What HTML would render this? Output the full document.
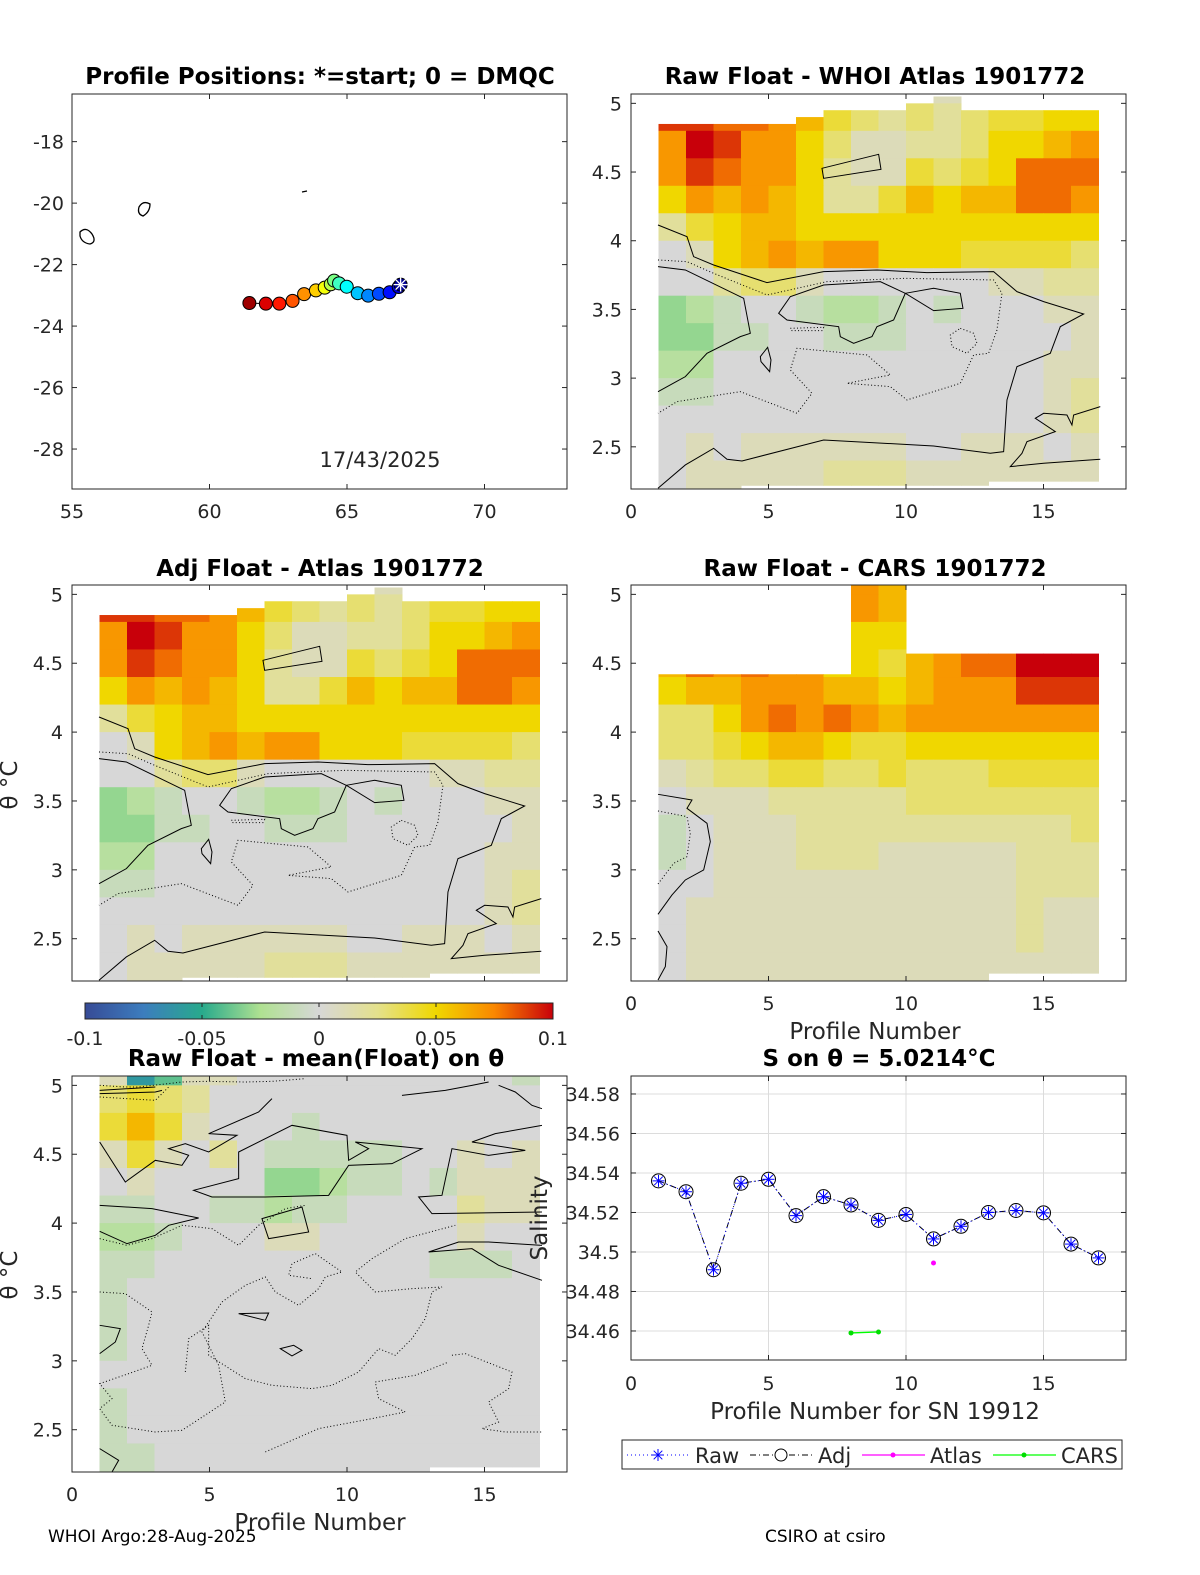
<!DOCTYPE html>
<html><head><meta charset="utf-8">
<style>
body{margin:0;background:#fff;}
svg{display:block;font-family:"DejaVu Sans","Liberation Sans",sans-serif;}
.t{font-size:19px;fill:#262626;font-family:"DejaVu Sans","Liberation Sans",sans-serif;}
.ttl{font-size:23px;font-weight:bold;fill:#000;font-family:"DejaVu Sans","Liberation Sans",sans-serif;}
.lab{font-size:23px;fill:#262626;font-family:"DejaVu Sans","Liberation Sans",sans-serif;}
.leg{font-size:21px;fill:#262626;font-family:"DejaVu Sans","Liberation Sans",sans-serif;}
</style></head>
<body>
<svg id="fig" width="1200" height="1575" viewBox="0 0 1200 1575" xmlns="http://www.w3.org/2000/svg">
<defs>
<clipPath id="c2"><rect x="631" y="94" width="495" height="395"/></clipPath>
<clipPath id="c3"><rect x="72" y="585" width="495" height="396"/></clipPath>
<clipPath id="c4"><rect x="631" y="585" width="495" height="396"/></clipPath>
<clipPath id="c5"><rect x="72" y="1076" width="495" height="396"/></clipPath>
<linearGradient id="cbg" x1="0" x2="1" y1="0" y2="0">
<stop offset="0" stop-color="rgb(55,75,150)"/><stop offset="0.125" stop-color="rgb(60,125,190)"/>
<stop offset="0.25" stop-color="rgb(40,170,140)"/><stop offset="0.375" stop-color="rgb(175,225,145)"/>
<stop offset="0.5" stop-color="rgb(215,215,215)"/><stop offset="0.625" stop-color="rgb(228,225,140)"/>
<stop offset="0.75" stop-color="rgb(240,215,0)"/><stop offset="0.875" stop-color="rgb(250,135,0)"/>
<stop offset="1" stop-color="rgb(200,0,10)"/>
</linearGradient>
</defs>
<g id="layer"></g>
</svg>
<script>
// ---------- data ----------
const profiles = [1,2,3,4,5,6,7,8,9,10,11,12,13,14,15,16,17];
const mapLon = [66.95,66.88,66.55,66.16,65.77,65.39,64.99,64.71,64.53,64.41,64.19,63.87,63.44,63.02,62.54,62.05,61.45];
const mapLat = [-22.65,-22.73,-22.90,-22.95,-23.01,-22.93,-22.72,-22.61,-22.52,-22.64,-22.75,-22.84,-22.96,-23.18,-23.27,-23.27,-23.25];
const rawSal = [34.536,34.5305,34.491,34.5348,34.5368,34.5184,34.528,34.5238,34.516,34.519,34.5066,34.513,34.520,34.521,34.5198,34.504,34.497];
const adjSal = [34.536,34.5305,34.491,34.5348,34.5368,34.5184,34.528,34.5238,34.516,34.519,34.5066,34.513,34.520,34.521,34.5198,34.504,34.497];
const atlasProf = [11];
const atlasSal = [34.4944];
const carsProf = [8,9];
const carsSal = [34.459,34.4595];
const mapXTicks = [55,60,65,70];
const mapYTicks = [-18,-20,-22,-24,-26,-28];
const thetaTicks = [2.5,3,3.5,4,4.5,5];
const profTicks = [0,5,10,15];
const salTicks = [34.46,34.48,34.5,34.52,34.54,34.56,34.58];
const salTickLabels = ["34.46","34.48","34.5","34.52","34.54","34.56","34.58"];
const cbTicks = [-0.1,-0.05,0,0.05,0.1];
const cbTickLabels = ["-0.1","-0.05","0","0.05","0.1"];
const rowBottoms = [2.2,2.4,2.6,2.8,3.0,3.2,3.4,3.6,3.8,4.0,4.2,4.4,4.6,4.8,5.0];
const whoiGrid = [
 [null,null,null,null,null,null,null,null,null,1,1,null,null,null,null,null],
 [9,9,8,8,7,6,4,3,2,3,2,3,4,4,5,5],
 [7,10,9,7,7,5,3,1,1,2,2,3,5,5,6,7],
 [7,9,8,7,7,5,2,1,1,4,3,4,5,8,8,8],
 [5,7,6,7,6,5,2,2,4,6,5,6,6,8,8,7],
 [2,4,5,6,6,5,5,5,5,5,5,5,5,5,5,5],
 [0,1,5,6,7,6,7,7,5,5,5,4,4,4,4,3],
 [0,0,2,3,3,1,0,0,0,0,0,0,1,1,2,2],
 [-3,-2,-1,0,0,-1,-2,-2,-1,0,-1,0,0,0,1,1],
 [-3,-3,-1,-1,0,0,-1,-1,-1,0,0,0,0,0,0,1],
 [-2,-2,0,0,0,0,0,0,0,0,0,0,0,0,1,1],
 [-1,-1,0,0,0,0,0,0,0,0,0,0,0,0,1,2],
 [0,0,0,0,0,0,0,0,0,0,0,0,0,0,1,2],
 [0,1,0,1,1,1,1,1,1,0,0,1,1,1,0,1],
 [0,1,1,1,1,1,2,2,2,1,1,1,1,1,1,1]
];
const whoiTop = [4.85,4.85,4.85,4.85,4.85,4.9,4.95,4.95,4.95,5.0,5.05,4.95,4.95,4.95,4.95,4.95];
const whoiBot = [2.18,2.18,2.18,2.22,2.22,2.22,2.22,2.22,2.22,2.22,2.22,2.22,2.25,2.25,2.25,2.25];
const adjGrid = whoiGrid;
const carsGrid = [
 [null,null,null,null,null,null,null,7,6,null,null,null,null,null,null,null],
 [null,null,null,null,null,null,null,7,6,null,null,null,null,null,null,null],
 [null,null,null,null,null,null,null,5,5,null,null,null,null,null,null,null],
 [6,8,7,8,7,7,5,5,4,6,7,8,8,10,10,10],
 [5,6,6,7,7,7,6,6,5,6,7,7,7,9,9,9],
 [3,3,5,7,8,7,8,7,6,7,7,7,7,7,7,7],
 [3,3,4,5,6,6,5,4,4,5,5,5,5,5,5,5],
 [1,2,3,3,4,4,3,3,4,3,3,3,4,4,4,4],
 [0,1,1,1,2,2,2,2,2,3,3,3,3,3,3,3],
 [-1,0,1,1,1,2,2,2,2,2,2,2,2,2,2,3],
 [-1,0,1,1,1,2,2,2,1,1,1,1,1,2,2,2],
 [0,0,1,1,1,1,1,1,1,1,1,1,1,2,2,2],
 [0,1,1,1,1,1,1,1,1,1,1,1,1,2,1,1],
 [0,1,1,1,1,1,1,1,1,1,1,1,1,2,1,1],
 [0,1,1,1,1,1,1,1,1,1,1,1,1,1,1,1]
];
const carsTop = [4.42,4.42,4.42,4.42,4.42,4.42,4.42,5.07,5.07,4.57,4.57,4.57,4.57,4.57,4.57,4.57];
const carsBot = [2.18,2.18,2.18,2.18,2.18,2.18,2.18,2.18,2.18,2.18,2.18,2.18,2.25,2.25,2.25,2.25];
const diffGrid = [
 [1,-6,-4,1,1,0,0,0,0,0,0,0,0,0,0,-1],
 [3,4,3,2,0,0,0,0,0,0,0,0,0,0,0,0],
 [4,6,4,1,0,0,0,-1,0,0,0,0,0,0,0,0],
 [1,4,1,0,2,0,-1,-1,-1,-1,-1,0,0,1,0,1],
 [0,1,0,0,0,0,-3,-3,-2,-1,-1,0,-1,1,1,1],
 [-1,-1,0,0,-1,-1,-2,-1,-1,0,0,0,0,2,1,1],
 [-2,-2,-1,0,0,0,1,1,0,0,0,0,0,1,0,0],
 [-1,-1,0,0,0,0,0,0,0,0,0,0,-1,-1,-1,0],
 [-1,0,0,0,0,0,0,0,0,0,0,0,0,0,0,0],
 [-1,0,0,0,0,0,0,0,0,0,0,0,0,0,0,0],
 [-1,0,0,0,0,0,0,0,0,0,0,0,0,0,0,0],
 [0,0,0,0,0,0,0,0,0,0,0,0,0,0,0,0],
 [-1,0,0,0,0,0,0,0,0,0,0,0,0,0,0,0],
 [-1,0,0,0,0,0,0,0,0,0,0,0,0,0,0,0],
 [-1,-1,0,0,0,0,0,0,0,0,0,0,0,0,0,0]
];
const diffTop = [5.07,5.07,5.07,5.07,5.07,5.07,5.07,5.07,5.07,5.07,5.07,5.07,5.07,5.07,5.07,5.07];
const diffBot = [2.18,2.18,2.18,2.18,2.18,2.18,2.18,2.18,2.18,2.18,2.18,2.18,2.23,2.23,2.23,2.23];

// ---------- helpers ----------
const NS = "http://www.w3.org/2000/svg";
const root = document.getElementById('layer');
function el(tag, attrs, parent){
  const e = document.createElementNS(NS, tag);
  for (const k in attrs) e.setAttribute(k, attrs[k]);
  (parent||root).appendChild(e);
  return e;
}
function txt(s, attrs, parent){ const e = el('text', attrs, parent); e.textContent = s; return e; }
function lin(d0,d1,r0,r1){ return v => r0 + (v-d0)/(d1-d0)*(r1-r0); }
const stops = [[-10,[55,75,150]],[-7.5,[60,125,190]],[-5,[40,170,140]],[-2.5,[175,225,145]],[0,[215,215,215]],[2.5,[228,225,140]],[5,[240,215,0]],[7.5,[250,135,0]],[10,[200,0,10]]];
function cmap(v){
  v = Math.max(-10, Math.min(10, v));
  for (let i=0;i<stops.length-1;i++){
    const a=stops[i], b=stops[i+1];
    if (v<=b[0]){ const t=(v-a[0])/(b[0]-a[0]);
      return 'rgb('+a[1].map((c,j)=>Math.round(c+(b[1][j]-c)*t)).join(',')+')'; }
  }
  return 'rgb(200,0,10)';
}
function jet(t){
  const c = x => Math.round(255*Math.max(0,Math.min(1,x)));
  return 'rgb('+c(1.5-Math.abs(4*t-3))+','+c(1.5-Math.abs(4*t-2))+','+c(1.5-Math.abs(4*t-1))+')';
}
function box(x0,y0,w,h,name){
  const r = el('rect',{x:x0,y:y0,width:w,height:h,fill:'none',stroke:'#262626','stroke-width':1});
  
  
}
function xTicks(ticks, sx, y0, h, labels, labelY, name){
  const g = el('g',{});
  
  
  ticks.forEach((v,i)=>{
    const x = sx(v);
    el('line',{x1:x,x2:x,y1:y0+h,y2:y0+h-5,stroke:'#262626'},g);
    el('line',{x1:x,x2:x,y1:y0,y2:y0+5,stroke:'#262626'},g);
    if (labels) txt(labels[i],{x:x,y:labelY,'text-anchor':'middle',class:'t'},g);
  });
}
function yTicks(ticks, sy, x0, w, labels, labelX, name){
  const g = el('g',{});
  
  
  ticks.forEach((v,i)=>{
    const y = sy(v);
    el('line',{x1:x0,x2:x0+5,y1:y,y2:y,stroke:'#262626'},g);
    el('line',{x1:x0+w,x2:x0+w-5,y1:y,y2:y,stroke:'#262626'},g);
    if (labels) txt(labels[i],{x:labelX,y:y+7,'text-anchor':'end',class:'t'},g);
  });
}
function heatmap(grid, tops, bots, x0, y0, w, h, clipId, name){
  const sx = lin(0,18.0,x0,x0+w), sy = lin(2.193,5.068,y0+h,y0);
  const g = el('g',{'clip-path':'url(#'+clipId+')'});
  
  
  const nr = rowBottoms.length;
  grid.forEach((row, ri)=>{
    const r = nr-1-ri;
    row.forEach((v, ci)=>{
      if (v===null) return;
      let lo = Math.max(rowBottoms[r], bots[ci]);
      let hi = Math.min(rowBottoms[r]+0.2, tops[ci]);
      if (hi<=lo) return;
      const c = el('rect',{x:sx(ci+1),y:sy(hi),width:sx(ci+2)-sx(ci+1)+0.5,height:sy(lo)-sy(hi)+0.5,fill:cmap(v)},g);
      
      
    });
  });
  return {sx, sy};
}
function thetaAxes(x0,y0,w,h,name,xLabels,xLabelY){
  const sx = lin(0,18.0,x0,x0+w), sy = lin(2.193,5.068,y0+h,y0);
  box(x0,y0,w,h,name+'-box');
  xTicks(profTicks, sx, y0, h, xLabels?profTicks.map(String):null, xLabelY, name+'-x-ticks');
  yTicks(thetaTicks, sy, x0, w, thetaTicks.map(String), x0-9, name+'-y-ticks');
}
function atlasContours(tx,ty,name){
  const g = el('g',{transform:'translate('+tx+','+ty+') scale(0.3333)',fill:'none',stroke:'#000','stroke-width':3});
  
  
  el('path',{d:'M93,405 L180,440 L200,500 L260,525 L420,578 L590,545 L750,540 L900,548 L1100,545 L1170,605 L1250,635 L1370,672 L1300,710 L1270,790 L1170,830 L1140,930 L1130,1085 L1090,1090 L920,1068 L590,1050 L345,1113 L300,1108 L260,1075 L175,1125 L93,1195'},g);
  el('path',{d:'M455,670 L490,620 L590,585 L760,575 L835,610 L800,690 L750,710 L735,740 L680,760 L640,740 L635,710 L480,690 Z'},g);
  el('path',{d:'M835,610 L920,595 L1000,610 L1008,655 L920,662 Z'},g);
  el('path',{d:'M585,235 L755,193 L762,238 L590,265 Z'},g);
  el('path',{d:'M93,530 L175,540 L350,625 L370,730 L340,740 L240,790 L175,860 L93,905'},g);
  el('path',{d:'M400,800 L422,772 L432,810 L428,845 L402,815 Z'},g);
  el('path',{d:'M93,510 L180,515 L260,550 L420,615 L600,575 L830,565 L1100,570 L1125,610 L1110,720 L1085,790 L1040,795 L1000,880 L840,930 L790,890 L660,880 L790,855 L720,795 L510,775 L490,840 L555,910 L510,970 L340,905 L150,935 L93,970','stroke-dasharray':'3,7'},g);
  el('path',{d:'M1000,715 L1040,730 L1050,760 L1020,790 L975,770 L970,735 Z','stroke-dasharray':'3,7'},g);
  el('path',{d:'M490,715 L590,712 L585,722 L495,722 Z','stroke-dasharray':'3,7'},g);
  el('path',{d:'M1420,950 L1340,975 L1335,1005 L1320,975 L1250,970 L1225,985 L1285,1025 L1200,1055 L1185,1090 L1150,1130 L1250,1120 L1420,1108'},g);
}

// ---------- panel 1: map ----------
(function(){
  const x0=72,y0=94,w=495,h=395;
  const sx = lin(55,73.0,x0,x0+w), sy = lin(-29.3,-16.45,y0+h,y0);
  const coast = el('g',{fill:'none',stroke:'#000','stroke-width':1.3});
  
  
  el('path',{d:'M80,232 Q86,226 92,234 Q97,242 90,244 Q82,243 80,236 Z'},coast);
  el('path',{d:'M139,207 Q143,200 150,204 Q150,212 143,216 Q137,214 139,207 Z'},coast);
  el('path',{d:'M302,192 L307,191'},coast);
  const pts = profiles.map((p,i)=>[sx(mapLon[i]), sy(mapLat[i])]);
  const track = el('polyline',{points:pts.map(p=>p.join(',')).join(' '),fill:'none',stroke:'#000','stroke-width':1});
  
  
  for (let i=profiles.length-1;i>=0;i--){
    const c = el('circle',{cx:pts[i][0],cy:pts[i][1],r:6.5,fill:jet(i/(profiles.length-1)*0.95+0.02),stroke:'#000','stroke-width':1});
    
    
  }
  const s = el('g',{stroke:'#fff','stroke-width':1.3});
  
  
  const [px,py]=pts[0];
  [[0,7],[7,0],[5,5],[5,-5]].forEach(([dx,dy])=>el('line',{x1:px-dx,y1:py-dy,x2:px+dx,y2:py+dy},s));
  box(x0,y0,w,h,'map-box');
  xTicks(mapXTicks, sx, y0, h, mapXTicks.map(String), 518, 'map-x-ticks');
  yTicks(mapYTicks, sy, x0, w, mapYTicks.map(String), 64, 'map-y-ticks');
  const d = txt('17/43/2025',{x:380,y:467,'text-anchor':'middle',class:'lab',style:'font-size:21px'});
  
  
  const t = txt('Profile Positions: *=start; 0 = DMQC',{x:320,y:84,'text-anchor':'middle',class:'ttl'});
  
  
})();

// ---------- panel 2 ----------
heatmap(whoiGrid, whoiTop, whoiBot, 631, 94, 495, 395, 'c2', 'whoi-heatmap');
atlasContours(627,90,'whoi-contours');
thetaAxes(631,94,495,395,'whoi',true,518);
(function(){const t=txt('Raw Float - WHOI Atlas  1901772',{x:875,y:84,'text-anchor':'middle',class:'ttl'});
})();

// ---------- panel 3 ----------
heatmap(adjGrid, whoiTop, whoiBot, 72, 585, 495, 396, 'c3', 'adj-heatmap');
atlasContours(68,582,'adj-contours');
thetaAxes(72,585,495,396,'adj',false,0);
(function(){const t=txt('Adj Float - Atlas  1901772',{x:320,y:576,'text-anchor':'middle',class:'ttl'});
})();

// ---------- panel 4 ----------
heatmap(carsGrid, carsTop, carsBot, 631, 585, 495, 396, 'c4', 'cars-heatmap');
(function(){
  const g = el('g',{transform:'translate(627,580) scale(0.3333)',fill:'none',stroke:'#000','stroke-width':3});
  
  
  el('path',{d:'M93,643 L195,660 L180,685 L240,730 L250,785 L230,870 L175,900 L135,945 L93,1003'},g);
  el('path',{d:'M93,693 L180,710 L190,760 L180,830 L140,850 L93,912','stroke-dasharray':'3,7'},g);
  el('path',{d:'M93,1053 L120,1100 L115,1160 L93,1200'},g);
})();
thetaAxes(631,585,495,396,'cars',true,1010);
(function(){const t=txt('Raw Float - CARS  1901772',{x:875,y:576,'text-anchor':'middle',class:'ttl'});

const l=txt('Profile Number',{x:875,y:1039,'text-anchor':'middle',class:'lab'});
})();

// ---------- colorbar ----------
(function(){
  const cb = el('rect',{x:85,y:1003,width:468,height:16,fill:'url(#cbg)',stroke:'#262626'});
  
  
  const sx = lin(-0.1,0.1,85,553);
  const g = el('g',{});
  
  
  cbTicks.forEach((v,i)=>{
    el('line',{x1:sx(v),x2:sx(v),y1:1019,y2:1015,stroke:'#262626'},g);
    el('line',{x1:sx(v),x2:sx(v),y1:1003,y2:1007,stroke:'#262626'},g);
    txt(cbTickLabels[i],{x:sx(v),y:1045,'text-anchor':'middle',class:'t'},g);
  });
})();

// ---------- panel 5 ----------
heatmap(diffGrid, diffTop, diffBot, 72, 1076, 495, 396, 'c5', 'diff-heatmap');
(function(){
  const g = el('g',{transform:'translate(72,1072) scale(0.3333)',fill:'none',stroke:'#000','stroke-width':3});
  
  
  el('path',{d:'M83,400 L240,410 L380,438 L290,460 L250,490 L165,515 L83,478'},g);
  el('path',{d:'M83,210 L160,330 L250,265 L330,280 L350,250 L290,230 L340,215 L410,240 L495,190 L410,185 L560,120 L600,80'},g);
  el('path',{d:'M500,240 L660,160 L825,190 L830,265 L890,230 L850,210 L1050,230 L960,275 L830,280 L770,370 L580,375 L420,375 L365,355 L500,320 Z'},g);
  el('path',{d:'M570,440 L690,405 L710,480 L590,500 Z'},g);
  el('path',{d:'M1410,625 L1280,580 L1200,530 L1070,540 L1160,510 L1250,510 L1410,520'},g);
  el('path',{d:'M1410,160 L1270,185 L1200,210 L1360,235 L1250,250 L1140,230 L1110,370 L1040,375 L1080,425 L1410,420'},g);
  el('path',{d:'M83,760 L145,770 L130,810 L83,845'},g);
  el('path',{d:'M500,725 L590,723 L580,745 Z'},g);
  el('path',{d:'M625,830 L665,820 L690,835 L660,852 Z'},g);
  el('path',{d:'M83,660 L160,665 L240,720 L230,760 L210,830 L240,880 L170,905 L83,935 L120,980 L83,1010 L120,1060 L250,1080 L330,1075 L460,990 L440,880 L390,780 L450,690 L520,640 L580,615 L610,660 L680,700 L740,650 L760,615 L810,600 L730,545 L660,575 L650,610 L720,620','stroke-dasharray':'3,7'},g);
  el('path',{d:'M340,900 L350,800 L410,760 L410,850 L520,920 L600,940 L720,950 L780,940 L860,900 L920,830 L970,850 L1020,800 L1060,740 L1080,660 L1110,645 L1020,650 L910,660 L850,600 L900,560 L1000,500 L1150,460','stroke-dasharray':'3,7'},g);
  el('path',{d:'M1140,850 L1180,845 L1320,900 L1310,950 L1250,990 L1280,1050 L1230,1070 L1300,1080 L1410,1080','stroke-dasharray':'3,7'},g);
  el('path',{d:'M580,1140 L740,1070 L900,1040 L1000,1020 L920,980 L910,930 L1030,910 L1130,870','stroke-dasharray':'3,7'},g);
  el('path',{d:'M83,500 L165,520 L240,500 L330,460 L420,470 L500,520 L560,460 L640,410 L700,400','stroke-dasharray':'3,7'},g);
  el('path',{d:'M83,40 L160,45 L200,45 L330,30 L400,28 L520,30 L600,28 L700,20 M83,75 L250,85 L290,45','stroke-dasharray':'3,7'},g);
  el('path',{d:'M83,65 L250,60 L270,55 M83,55 L250,45'},g);
  el('path',{d:'M990,70 L1120,55 L1200,40 L1250,30 M1280,40 L1330,60 L1380,100 L1410,110'},g);
  el('path',{d:'M83,1130 L140,1165 L120,1200'},g);
})();
thetaAxes(72,1076,495,396,'diff',true,1501);
(function(){
  const t=txt('Raw Float - mean(Float) on θ',{x:316,y:1066,'text-anchor':'middle',class:'ttl'});
  
  const l=txt('Profile Number',{x:320,y:1530,'text-anchor':'middle',class:'lab'});
  
  const a=txt('θ °C',{x:0,y:0,'text-anchor':'middle',class:'lab',transform:'translate(17,785) rotate(-90)'});
  
  const b=txt('θ °C',{x:0,y:0,'text-anchor':'middle',class:'lab',transform:'translate(17,1275) rotate(-90)'});
  
})();

// ---------- panel 6: salinity ----------
(function(){
  const x0=631,y0=1076,w=495,h=284;
  const sx = lin(0,18.0,x0,x0+w), sy = lin(34.4453,34.5891,y0+h,y0);
  const grid = el('g',{stroke:'#dcdcdc','stroke-width':1});
  
  
  salTicks.forEach(v=>el('line',{x1:x0,x2:x0+w,y1:sy(v),y2:sy(v)},grid));
  profTicks.forEach(v=>el('line',{x1:sx(v),x2:sx(v),y1:y0,y2:y0+h},grid));
  box(x0,y0,w,h,'sal-box');
  xTicks(profTicks, sx, y0, h, profTicks.map(String), 1390, 'sal-x-ticks');
  yTicks(salTicks, sy, x0, w, salTickLabels, 620, 'sal-y-ticks');
  const adjPts = profiles.map((p,i)=>sx(p)+','+sy(adjSal[i])).join(' ');
  const rawPts = profiles.map((p,i)=>sx(p)+','+sy(rawSal[i])).join(' ');
  const la = el('polyline',{points:adjPts,fill:'none',stroke:'#000','stroke-width':1,'stroke-dasharray':'6,3,1,3'});
   
  const lr = el('polyline',{points:rawPts,fill:'none',stroke:'#0000ff','stroke-width':1,'stroke-dasharray':'1,3'});
   
  profiles.forEach((p,i)=>{
    const x=sx(p), y=sy(rawSal[i]);
    const g = el('g',{});
     
    el('circle',{cx:x,cy:sy(adjSal[i]),r:7,fill:'none',stroke:'#000','stroke-width':1},g);
    [[0,6],[6,0],[4.3,4.3],[4.3,-4.3]].forEach(([dx,dy])=>el('line',{x1:x-dx,y1:y-dy,x2:x+dx,y2:y+dy,stroke:'#0000ff','stroke-width':1},g));
  });
  atlasProf.forEach((p,i)=>{
    const c = el('circle',{cx:sx(p),cy:sy(atlasSal[i]),r:2.5,fill:'#ff00ff'});
     
  });
  const lc = el('polyline',{points:carsProf.map((p,i)=>sx(p)+','+sy(carsSal[i])).join(' '),fill:'none',stroke:'#00ff00','stroke-width':1.3});
   
  carsProf.forEach((p,i)=>{
    const c = el('circle',{cx:sx(p),cy:sy(carsSal[i]),r:2.5,fill:'#00dd00'});
     
  });
  const t=txt('S on θ = 5.0214°C',{x:879,y:1066,'text-anchor':'middle',class:'ttl'});
   
  const xl=txt('Profile Number for SN 19912',{x:875,y:1419,'text-anchor':'middle',class:'lab'});
   
  const yl=txt('Salinity',{x:0,y:0,'text-anchor':'middle',class:'lab',transform:'translate(547,1218) rotate(-90)'});
   
})();

// ---------- legend ----------
(function(){
  const g = el('g',{});
   
  el('rect',{x:622,y:1440,width:500,height:29,fill:'#fff',stroke:'#262626'},g);
  const y=1455;
  const e1 = el('g',{},g);  
  el('line',{x1:627,x2:690,y1:y,y2:y,stroke:'#0000ff','stroke-dasharray':'1,3'},e1);
  [[0,6],[6,0],[4.3,4.3],[4.3,-4.3]].forEach(([dx,dy])=>el('line',{x1:658-dx,y1:y-dy,x2:658+dx,y2:y+dy,stroke:'#0000ff'},e1));
  txt('Raw',{x:695,y:y+8,class:'leg'},e1);
  const e2 = el('g',{},g);  
  el('line',{x1:750,x2:812,y1:y,y2:y,stroke:'#000','stroke-dasharray':'6,3,1,3'},e2);
  el('circle',{cx:781,cy:y,r:6,fill:'#fff',stroke:'#000'},e2);
  txt('Adj',{x:818,y:y+8,class:'leg'},e2);
  const e3 = el('g',{},g);  
  el('line',{x1:862,x2:925,y1:y,y2:y,stroke:'#ff00ff','stroke-width':1.3},e3);
  el('circle',{cx:893,cy:y,r:2.5,fill:'#ff00ff'},e3);
  txt('Atlas',{x:930,y:y+8,class:'leg'},e3);
  const e4 = el('g',{},g);  
  el('line',{x1:993,x2:1056,y1:y,y2:y,stroke:'#00ff00','stroke-width':1.3},e4);
  el('circle',{cx:1024,cy:y,r:2.5,fill:'#00dd00'},e4);
  txt('CARS',{x:1061,y:y+8,class:'leg'},e4);
})();

// ---------- footer ----------
(function(){
  const a=txt('WHOI Argo:28-Aug-2025',{x:48,y:1542,style:'font-size:17px;font-family:"DejaVu Sans",sans-serif',fill:'#000'});
   
  const b=txt('CSIRO at csiro',{x:765,y:1542,style:'font-size:17px;font-family:"DejaVu Sans",sans-serif',fill:'#000'});
   
})();
</script>
</body></html>
